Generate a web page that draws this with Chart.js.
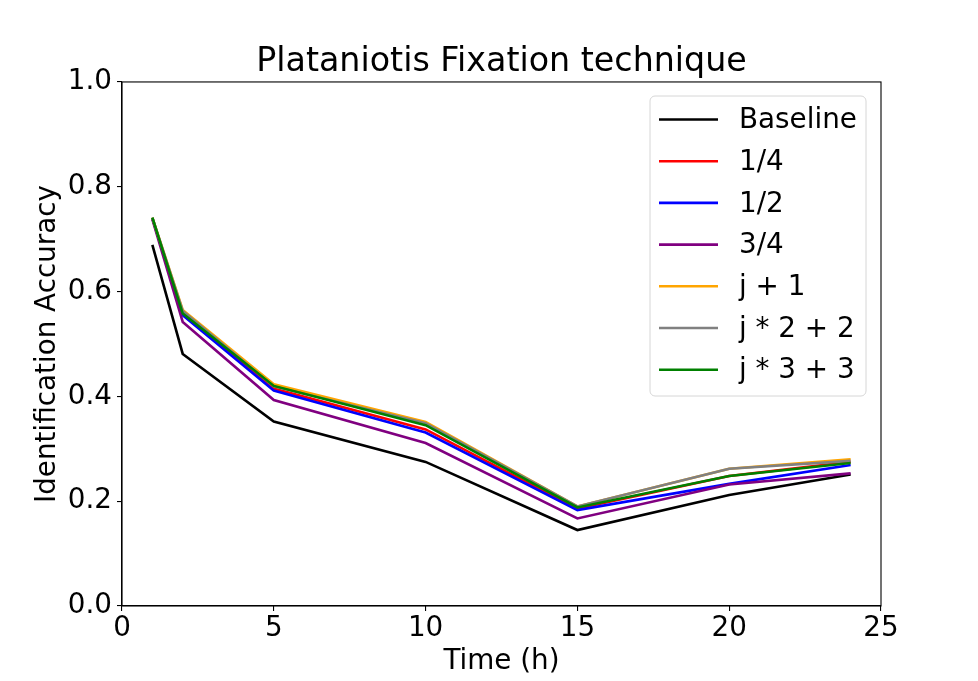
<!DOCTYPE html>
<html>
<head>
<meta charset="utf-8">
<script src="https://cdn.jsdelivr.net/npm/chart.js@4/dist/chart.umd.min.js"></script>
<style>
  html, body { margin: 0; padding: 0; background: #fff; }
  #wrap { width: 978px; height: 681px; }
</style>
</head>
<body>
<div id="wrap"><canvas id="chart" width="978" height="681"></canvas></div>
<script>
// hours
var times = [1, 2, 5, 10, 15, 20, 24];
var seriesNames = ["Baseline", "1/4", "1/2", "3/4", "j + 1", "j * 2 + 2", "j * 3 + 3"];
var seriesColors = ["#000000", "#ff0000", "#0000ff", "#800080", "#ffa500", "#808080", "#008000"];
var baseline = [0.689, 0.481, 0.352, 0.275, 0.145, 0.212, 0.251];
var quarter = [0.740, 0.557, 0.415, 0.337, 0.186, 0.248, 0.275];
var half = [0.740, 0.555, 0.411, 0.331, 0.183, 0.233, 0.269];
var threeQuarter = [0.738, 0.542, 0.393, 0.311, 0.167, 0.232, 0.253];
var jPlus1 = [0.741, 0.565, 0.423, 0.351, 0.190, 0.262, 0.280];
var j2Plus2 = [0.741, 0.563, 0.419, 0.349, 0.190, 0.262, 0.277];
var j3Plus3 = [0.741, 0.558, 0.420, 0.345, 0.188, 0.248, 0.273];
var yTicks = [0, 0.2, 0.4, 0.6, 0.8, 1.0];
var xTicks = [0, 5, 10, 15, 20, 25];

var allValues = [baseline, quarter, half, threeQuarter, jPlus1, j2Plus2, j3Plus3];
var FONT = "DejaVu Sans";
var LINE_W = 2.6;

var datasets = [];
for (var i = 0; i < allValues.length; i++) {
    var pts = [];
    for (var k = 0; k < times.length; k++) {
        pts.push({x: times[k], y: allValues[i][k]});
    }
    datasets.push({
        label: seriesNames[i],
        data: pts,
        borderColor: seriesColors[i],
        backgroundColor: seriesColors[i],
        borderWidth: LINE_W,
        pointRadius: 0,
        tension: 0,
        fill: false,
        order: allValues.length - i   // later series drawn on top, like pyplot
    });
}

// box round the plot + a pyplot-like legend in the upper right
var framePlugin = {
    id: "frame",
    afterDraw: function(chart) {
        var ctx = chart.ctx;
        var a = chart.chartArea;
        ctx.save();
        ctx.strokeStyle = "#000";
        ctx.lineWidth = 1.1;
        ctx.strokeRect(a.left, a.top, a.right - a.left, a.bottom - a.top);

        var bx = 650, by = 96, bw = 216, bh = 300, r = 5;
        ctx.beginPath();
        ctx.moveTo(bx + r, by);
        ctx.arcTo(bx + bw, by, bx + bw, by + bh, r);
        ctx.arcTo(bx + bw, by + bh, bx, by + bh, r);
        ctx.arcTo(bx, by + bh, bx, by, r);
        ctx.arcTo(bx, by, bx + bw, by, r);
        ctx.closePath();
        ctx.fillStyle = "rgba(255,255,255,0.8)";
        ctx.fill();
        ctx.strokeStyle = "#d6d6d6";
        ctx.lineWidth = 1;
        ctx.stroke();

        ctx.font = "27.8px '" + FONT + "'";
        ctx.textBaseline = "middle";
        ctx.textAlign = "left";
        var ds = chart.data.datasets;
        for (var j = 0; j < ds.length; j++) {
            var y = 119.5 + j * 41.7;
            ctx.beginPath();
            ctx.moveTo(659, y);
            ctx.lineTo(718, y);
            ctx.strokeStyle = ds[j].borderColor;
            ctx.lineWidth = LINE_W;
            ctx.stroke();
            ctx.fillStyle = "#000";
            ctx.fillText(ds[j].label, 739, y + 1.5);
        }
        ctx.restore();
    }
};

var tickFont = {family: FONT, size: 27.8};

new Chart(document.getElementById("chart"), {
    type: "line",
    data: {datasets: datasets},
    options: {
        responsive: false,
        animation: false,
        layout: {padding: {left: 0, right: 97, top: 42, bottom: 0}},
        plugins: {
            legend: {display: false},
            tooltip: {enabled: false},
            title: {
                display: true,
                fullSize: false,
                text: "Plataniotis Fixation technique",
                color: "#000",
                font: {family: FONT, size: 33.3, weight: "normal", lineHeight: 1.2},
                padding: {top: 0, bottom: 0}
            }
        },
        scales: {
            x: {
                type: "linear",
                min: 0,
                max: 25,
                afterFit: function(scale) { scale.height = 75; },
                afterBuildTicks: function(scale) {
                    scale.ticks = xTicks.map(function(v) { return {value: v}; });
                },
                ticks: {color: "#000", font: tickFont, padding: 1, maxRotation: 0},
                grid: {display: true, drawOnChartArea: false, drawTicks: true, tickLength: 5, color: "#000", lineWidth: 1.1},
                border: {display: true, color: "#000", width: 1.1},
                title: {
                    display: true,
                    text: "Time (h)",
                    color: "#000",
                    font: {family: FONT, size: 27.8, lineHeight: 1.2},
                    padding: {top: 0, bottom: 2.3}
                }
            },
            y: {
                type: "linear",
                min: 0,
                max: 1,
                afterFit: function(scale) { scale.width = 122; },
                afterBuildTicks: function(scale) {
                    scale.ticks = yTicks.map(function(v) { return {value: v}; });
                },
                ticks: {
                    color: "#000",
                    font: tickFont,
                    padding: 5,
                    callback: function(v) { return Number(v).toFixed(1); }
                },
                grid: {display: true, drawOnChartArea: false, drawTicks: true, tickLength: 5, color: "#000", lineWidth: 1.1},
                border: {display: true, color: "#000", width: 1.1},
                title: {
                    display: true,
                    text: "Identification Accuracy",
                    color: "#000",
                    font: {family: FONT, size: 27.8, lineHeight: 1.2},
                    padding: {top: 31.3, bottom: 0}
                }
            }
        }
    },
    plugins: [framePlugin]
});
</script>
</body>
</html>
